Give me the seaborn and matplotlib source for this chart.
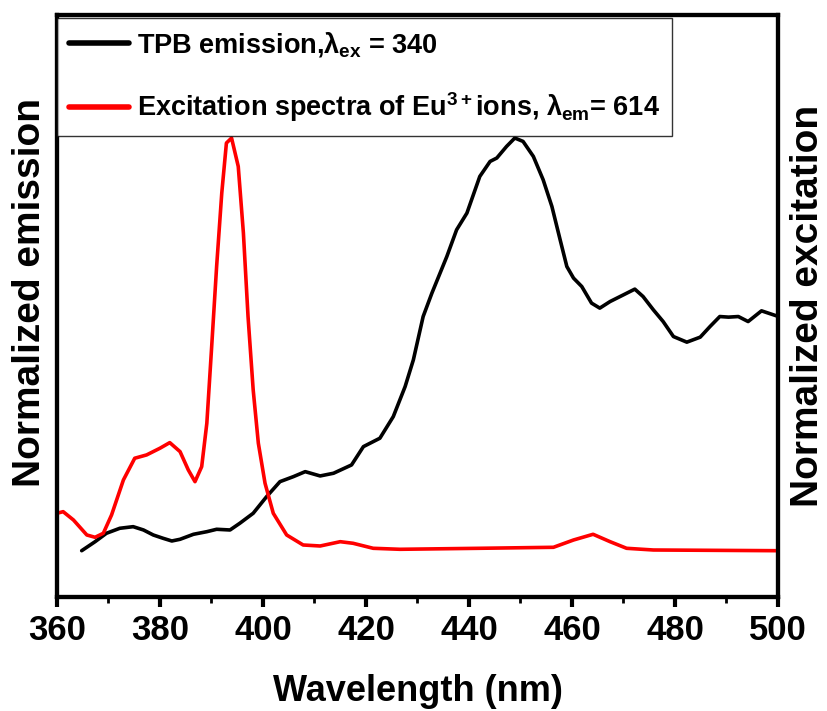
import numpy as np
import pandas as pd
import matplotlib
matplotlib.use("Agg")
import matplotlib.pyplot as plt
import seaborn as sns

# TPB emission (wavelength nm, raw intensity in arbitrary units)
tpb_wl = [364.8, 367.4, 369.6, 372.2, 374.8, 376.8, 378.7, 380.6, 382.3, 383.9,
          386.5, 389.1, 391.0, 393.6, 395.5, 398.1, 400.7, 403.3, 405.9, 408.2,
          411.1, 413.7, 417.2, 419.5, 422.7, 425.3, 427.6, 429.2, 431.1, 432.8,
          435.7, 437.6, 439.6, 442.1, 444.1, 445.4, 447.3, 448.9, 450.5, 452.5,
          454.4, 456.1, 457.7, 459.0, 460.3, 461.9, 463.8, 465.4, 467.4, 470.0,
          472.2, 473.8, 475.8, 477.7, 479.7, 482.3, 484.9, 486.8, 488.7, 490.4,
          492.3, 494.2, 496.8, 499.7]
tpb_int = [46.3, 55.3, 63.7, 68.7, 70.3, 67.0, 62.0, 58.7, 56.0, 57.7,
           62.7, 65.3, 67.7, 67.0, 73.7, 83.7, 100.3, 115.3, 120.3, 125.3,
           121.0, 123.7, 132.0, 150.3, 158.7, 180.3, 210.3, 237.0, 280.3, 303.7,
           340.3, 367.0, 383.7, 420.3, 435.3, 438.7, 450.3, 458.7, 455.3, 440.3,
           417.0, 390.3, 357.0, 330.3, 318.7, 310.3, 293.7, 288.7, 295.3, 302.0,
           307.7, 300.3, 287.0, 275.3, 260.3, 254.7, 259.7, 270.3, 280.3, 279.7,
           280.3, 275.3, 286.0, 281.0]

# Eu3+ excitation (wavelength nm, raw intensity in arbitrary units)
eu_wl = [360.0, 361.2, 363.2, 365.8, 367.4, 369.0, 370.6, 372.9, 375.1, 377.4,
         380.0, 381.9, 383.9, 385.5, 386.8, 388.1, 389.1, 390.0, 391.0, 392.0,
         392.9, 393.9, 395.2, 396.2, 397.1, 398.1, 399.1, 400.4, 402.0, 404.6,
         407.8, 411.1, 415.0, 417.5, 421.4, 426.6, 442.1, 456.4, 460.3, 464.1,
         467.4, 470.6, 475.8, 499.7]
eu_int = [83.7, 85.3, 77.0, 62.0, 59.7, 63.7, 82.0, 117.0, 138.7, 142.0,
          148.7, 154.3, 145.3, 127.0, 115.3, 130.3, 173.7, 247.0, 330.3, 403.7,
          453.7, 458.7, 430.3, 363.7, 280.3, 207.0, 153.7, 113.7, 83.7, 62.0,
          52.0, 51.0, 55.3, 53.7, 48.7, 47.7, 48.7, 49.7, 57.0, 62.7,
          55.3, 48.7, 47.0, 46.3]

x_ticks = [360, 380, 400, 420, 440, 460, 480, 500]

label_tpb = r'TPB emission,$\lambda_{ex}$ = 340'
label_eu = r'Excitation spectra of Eu$^{3+}$ions, $\lambda_{em}$= 614'

sns.set_style("ticks")
plt.rcParams['font.family'] = ['Liberation Sans', 'DejaVu Sans']
plt.rcParams['font.weight'] = 'bold'
plt.rcParams['text.color'] = 'black'
plt.rcParams['axes.labelcolor'] = 'black'
plt.rcParams['xtick.color'] = 'black'
plt.rcParams['ytick.color'] = 'black'
plt.rcParams['mathtext.fontset'] = 'custom'
plt.rcParams['mathtext.rm'] = 'Liberation Sans:bold'
plt.rcParams['mathtext.it'] = 'Liberation Sans:bold'
plt.rcParams['mathtext.bf'] = 'Liberation Sans:bold'

df_tpb = pd.DataFrame({"wl": tpb_wl, "v": np.array(tpb_int) / max(tpb_int)})
df_eu = pd.DataFrame({"wl": eu_wl, "v": np.array(eu_int) / max(eu_int)})

fig = plt.figure(figsize=(8.28, 7.11), dpi=100)
ax = fig.add_axes([0.0688, 0.1603, 0.8708, 0.8186])
ax2 = ax.twinx()

sns.lineplot(data=df_tpb, x="wl", y="v", ax=ax, color="black", lw=2.6, label=label_tpb, legend=False)
sns.lineplot(data=df_eu, x="wl", y="v", ax=ax2, color="#ff0000", lw=2.6, label=label_eu, legend=False)

for a in (ax, ax2):
    a.set_xlim(360, 500)
    a.set_ylim(0, 1.268)
    a.set_yticks([])
    for s in a.spines.values():
        s.set_linewidth(3)
        s.set_color("black")

ax.set_xticks(x_ticks)
ax.set_xticks(np.arange(370, 500, 20), minor=True)
ax.tick_params(axis='x', which='major', direction='out', length=7, width=3, labelsize=25, pad=5,
               labelcolor='black', color='black')
ax.tick_params(axis='x', which='minor', direction='out', length=4, width=2, color='black')
for lab in ax.get_xticklabels():
    lab.set_fontweight('bold')

ax.set_xlabel("Wavelength (nm)", fontsize=26, fontweight='bold', labelpad=20, color='black')
ax.set_ylabel("Normalized emission", fontsize=28, fontweight='bold', color='black')
ax.yaxis.set_label_coords(-0.013, 0.524)
ax2.set_ylabel("Normalized excitation", fontsize=28, fontweight='bold', labelpad=9, color='black')

h1, l1 = ax.get_legend_handles_labels()
h2, l2 = ax2.get_legend_handles_labels()
leg = ax2.legend(h1 + h2, l1 + l2, loc='upper left', bbox_to_anchor=(0.0, 0.995),
                 borderaxespad=0.0, frameon=True, fancybox=False,
                 edgecolor='black', handlelength=2.2, handletextpad=0.3,
                 labelspacing=1.15, borderpad=0.45, prop={'weight': 'bold', 'size': 19.5})
leg.get_frame().set_linewidth(1.0)
for t in leg.get_texts():
    t.set_color('black')
for line in leg.get_lines():
    line.set_linewidth(4)

fig.savefig("out.png", dpi=100)
